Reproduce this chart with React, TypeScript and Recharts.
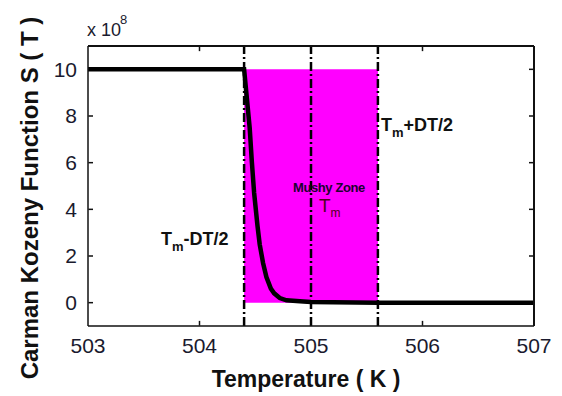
import {
  ComposedChart,
  Line,
  XAxis,
  YAxis,
  ReferenceArea,
  ReferenceLine,
} from 'recharts';

// Temperature (K) and Carman-Kozeny function S(T) in units of 1e8
const temperatures = [
  503, 504.4, 504.42, 504.45, 504.47, 504.49, 504.52, 504.54, 504.57, 504.6,
  504.64, 504.67, 504.72, 504.78, 504.9, 505, 505.6, 507,
];
const sValues = [
  10, 10, 9.0, 7.5, 6.0, 4.7, 3.3, 2.5, 1.7, 1.1, 0.6, 0.4, 0.2, 0.1, 0.06, 0.03,
  0, 0,
];

const xTicks = [503, 504, 505, 506, 507];
const yTicks = [0, 2, 4, 6, 8, 10];
// interior x ticks get the small inward marks on top/bottom
const innerXTicks = [504, 505, 506];

// mushy zone: Tm - DT/2, Tm, Tm + DT/2
const zoneLines = [504.4, 505, 505.6];
const zoneStart = 504.4;
const zoneEnd = 505.6;
const zoneTop = 10;

const chartData = temperatures.map((t, i) => ({ t, s: sValues[i] }));

const font = '"Liberation Sans", Arial, sans-serif';
const tickStyle = { fontSize: 21, fill: '#1a1a2e', fontFamily: font };
const xMin = 503;
const xMax = 507;
const yMin = -1;
const yMax = 11;
const axisColor = '#111';
// inward tick length in data units (~5px), and a tiny inset so the marks are not dropped at the edge
const xTickLen = 0.045;
const yTickLen = 0.22;
const xInset = 0.003;
const yInset = 0.015;

export default function App() {
  return (
    <div style={{ position: 'absolute', left: 0, top: 0, width: 562, height: 396, background: '#fff' }}>
      <ComposedChart
        width={562}
        height={396}
        data={chartData}
        margin={{ top: 45, right: 27, bottom: 0, left: 0 }}
      >
        <XAxis dataKey="t" type="number" domain={[xMin, xMax]} ticks={xTicks} allowDataOverflow
          stroke={axisColor} strokeWidth={1.5} tickLine={false} tickMargin={6} height={70} tick={tickStyle} />
        <YAxis type="number" domain={[yMin, yMax]} ticks={yTicks} allowDataOverflow
          stroke={axisColor} strokeWidth={1.5} tickLine={false} tickMargin={5} width={88} tick={tickStyle} />
        {/* top / right edges of the box */}
        <XAxis xAxisId="top" dataKey="t" orientation="top" type="number" domain={[xMin, xMax]} ticks={xTicks}
          allowDataOverflow stroke={axisColor} strokeWidth={2} tickSize={-6} tickLine={{ stroke: 'none' }}
          height={1} tick={false} />
        <YAxis yAxisId="right" orientation="right" type="number" domain={[yMin, yMax]} ticks={yTicks}
          allowDataOverflow stroke={axisColor} strokeWidth={2} tickSize={-6} tickLine={{ stroke: 'none' }}
          width={1} tick={false} />
        <Line xAxisId="top" yAxisId="right" dataKey="s" stroke="none" dot={false} isAnimationActive={false} />

        <ReferenceArea
          x1={zoneStart}
          x2={zoneEnd}
          y1={0}
          y2={zoneTop}
          fill="#ff00ff"
          fillOpacity={1}
          stroke="none"
        />

        {/* inward tick marks on all four sides */}
        {innerXTicks.map((x) => (
          <ReferenceLine
            key={`xb${x}`}
            segment={[{ x, y: yMin + yInset }, { x, y: yMin + yTickLen }]}
            stroke={axisColor}
            strokeWidth={1.5}
          />
        ))}
        {innerXTicks.map((x) => (
          <ReferenceLine
            key={`xt${x}`}
            segment={[{ x, y: yMax - yInset }, { x, y: yMax - yTickLen }]}
            stroke={axisColor}
            strokeWidth={1.5}
          />
        ))}
        {yTicks.map((y) => (
          <ReferenceLine
            key={`yl${y}`}
            segment={[{ x: xMin + xInset, y }, { x: xMin + xTickLen, y }]}
            stroke={axisColor}
            strokeWidth={1.5}
          />
        ))}
        {yTicks.map((y) => (
          <ReferenceLine
            key={`yr${y}`}
            segment={[{ x: xMax - xInset, y }, { x: xMax - xTickLen, y }]}
            stroke={axisColor}
            strokeWidth={1.5}
          />
        ))}

        {zoneLines.map((x) => (
          <ReferenceLine
            key={x}
            x={x}
            stroke="#000"
            strokeWidth={2.5}
            strokeDasharray="9 3 2 3"
          />
        ))}
        <Line
          dataKey="s"
          type="linear"
          stroke="#000"
          strokeWidth={4.5}
          dot={false}
          isAnimationActive={false}
        />
      </ComposedChart>
      <svg
        width={562}
        height={396}
        style={{ position: 'absolute', left: 0, top: 0, pointerEvents: 'none' }}
        fontFamily={font}
      >
        <text x={87} y={36} fontSize={18} fill="#1a1a2e">
          x 10
        </text>
        <text x={120} y={24} fontSize={13} fill="#1a1a2e">
          8
        </text>
        <text x={306} y={387} fontSize={23} fontWeight="bold" textAnchor="middle" fill="#111">
          Temperature ( K )
        </text>
        <text
          x={0}
          y={0}
          fontSize={24}
          fontWeight="bold"
          textAnchor="middle"
          fill="#111"
          transform="translate(38 198) rotate(-90)"
        >
          Carman Kozeny Function S ( T )
        </text>
        <text x={161} y={245} fontSize={18} fontWeight="bold" fill="#111">
          T<tspan fontSize={13} dy={6}>m</tspan>
          <tspan dy={-6}>-DT/2</tspan>
        </text>
        <text x={381} y={131} fontSize={18} fontWeight="bold" fill="#111">
          T<tspan fontSize={13} dy={6}>m</tspan>
          <tspan dy={-6}>+DT/2</tspan>
        </text>
        <text x={293} y={192} fontSize={13} fontWeight="bold" fill="#200030" letterSpacing={-0.4}>
          Mushy Zone
        </text>
        <text x={319} y={212} fontSize={19} fill="#500020">
          T<tspan fontSize={12} dy={5}>m</tspan>
        </text>
      </svg>
    </div>
  );
}
